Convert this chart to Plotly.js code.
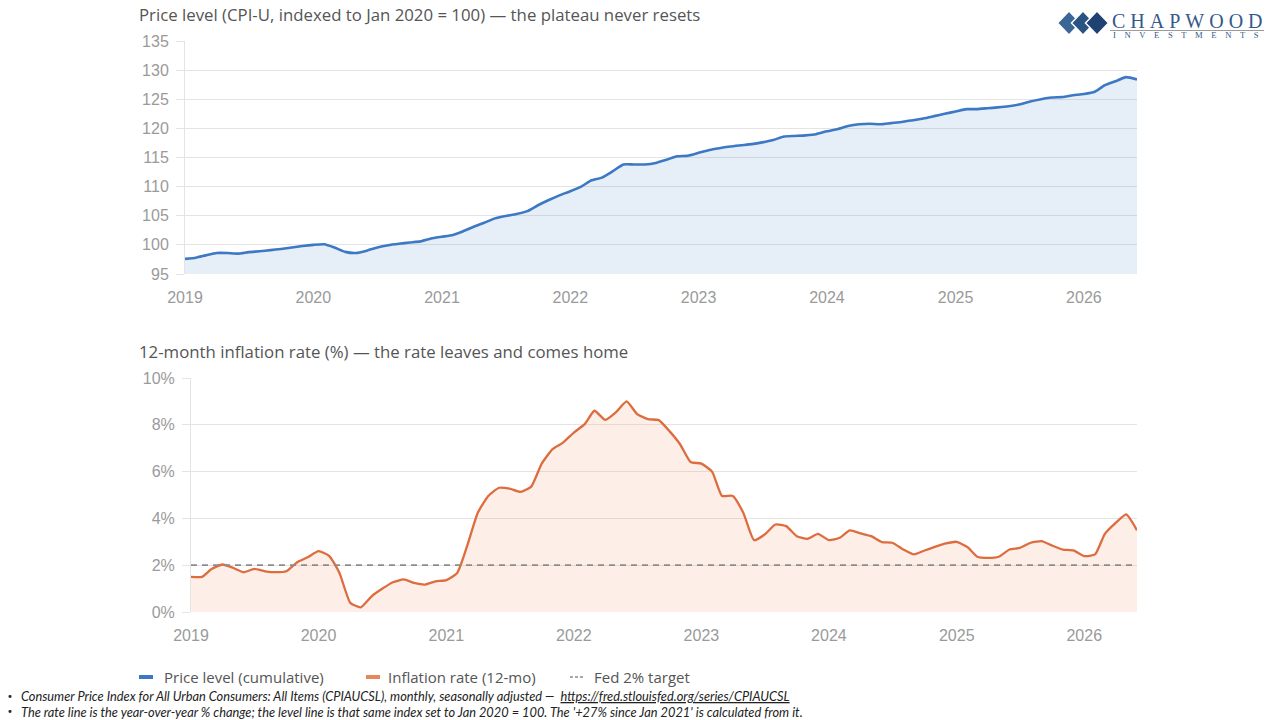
<!DOCTYPE html>
<html>
<head>
<meta charset="utf-8">
<script src="https://cdn.plot.ly/plotly-3.0.1.min.js"></script>
<style>
  html, body { margin: 0; padding: 0; background: #ffffff; }
  #chart { width: 1280px; height: 720px; }
</style>
</head>
<body>
<div id="chart"></div>
<script>
// ---- Data (monthly, Jan 2019 .. Jun 2026) ----
const startYear = 2019;
const startMonth = 1;

// CPI-U level, indexed to Jan 2020 = 100
const priceLevel = [
  97.6, 97.8, 98.2, 98.6, 98.6, 98.5, 98.75, 98.9, 99.1, 99.3, 99.55, 99.8,
  100.0, 100.1, 99.55, 98.8, 98.6, 99.0, 99.55, 99.95, 100.2, 100.4, 100.6, 101.1,
  101.4, 101.7, 102.3, 103.1, 103.8, 104.55, 104.95, 105.3, 105.8, 106.8, 107.7, 108.5,
  109.2, 110.0, 111.05, 111.55, 112.6, 113.8, 113.8, 113.8, 114.05, 114.6, 115.2, 115.3,
  115.8, 116.3, 116.6, 116.9, 117.1, 117.3, 117.6, 118.0, 118.6, 118.7, 118.8, 119.0,
  119.5, 119.9, 120.4, 120.7, 120.8, 120.7, 120.9, 121.1, 121.4, 121.7, 122.1, 122.5,
  122.9, 123.3, 123.3, 123.45, 123.6, 123.8, 124.1, 124.6, 125.0, 125.3, 125.4, 125.7,
  125.9, 126.3, 127.4, 128.1, 128.8, 128.4
];

// 12-month inflation rate, %
const inflationRate = [
  1.5, 1.5, 1.84, 2.03, 1.89, 1.7, 1.84, 1.74, 1.7, 1.74, 2.13, 2.34,
  2.6, 2.39, 1.67, 0.39, 0.2, 0.67, 0.99, 1.27, 1.39, 1.24, 1.17, 1.31,
  1.36, 1.67, 2.8, 4.24, 4.96, 5.31, 5.27, 5.13, 5.36, 6.34, 6.96, 7.24,
  7.67, 8.03, 8.6, 8.21, 8.53, 9.0, 8.46, 8.24, 8.2, 7.74, 7.17, 6.41,
  6.34, 5.99, 4.96, 4.96, 4.24, 3.07, 3.31, 3.74, 3.67, 3.24, 3.13, 3.34,
  3.07, 3.17, 3.49, 3.36, 3.24, 2.99, 2.96, 2.67, 2.46, 2.63, 2.79, 2.93,
  3.0, 2.77, 2.36, 2.31, 2.36, 2.67, 2.74, 2.96, 3.03, 2.84, 2.67, 2.63,
  2.39, 2.46, 3.34, 3.81, 4.17, 3.49
];

const fedTarget = 2;

const topTitle = "Price level (CPI-U, indexed to Jan 2020 = 100) — the plateau never resets";
const bottomTitle = "12-month inflation rate (%) — the rate leaves and comes home";
const legendLabels = ["Price level (cumulative)", "Inflation rate (12-mo)", "Fed 2% target"];
const yearTicks = ["2019", "2020", "2021", "2022", "2023", "2024", "2025", "2026"];
const footnote1 = "Consumer Price Index for All Urban Consumers: All Items (CPIAUCSL), monthly, seasonally adjusted —  ";
const footnoteLink = "https://fred.stlouisfed.org/series/CPIAUCSL";
const footnote2 = "The rate line is the year-over-year % change; the level line is that same index set to Jan 2020 = 100. The '+27% since Jan 2021' is calculated from it.";

// ---- Build month dates ----
const dates = priceLevel.map((_, i) => {
  const m = startMonth - 1 + i;
  const y = startYear + Math.floor(m / 12);
  const mm = (m % 12) + 1;
  return y + "-" + String(mm).padStart(2, "0") + "-01";
});
const tickVals = yearTicks.map(y => y + "-01-01");

const BLUE = "#3d78c4";
const ORANGE = "#dd6c3e";
const GRID = "#e4e4e4";
const TICKFONT = { family: "Liberation Sans, Arial, sans-serif", size: 16, color: "#9a9a9a" };

const traces = [
  {
    x: dates, y: priceLevel, xaxis: "x", yaxis: "y",
    type: "scatter", mode: "lines",
    line: { color: BLUE, width: 2.6, shape: "spline", smoothing: 0.5 },
    fill: "tozeroy", fillcolor: "rgba(61,120,196,0.13)",
    showlegend: false, hoverinfo: "x+y"
  },
  {
    x: dates, y: inflationRate, xaxis: "x2", yaxis: "y2",
    type: "scatter", mode: "lines",
    line: { color: ORANGE, width: 2.3, shape: "spline", smoothing: 0.5 },
    fill: "tozeroy", fillcolor: "rgba(240,140,95,0.15)",
    showlegend: false, hoverinfo: "x+y"
  },
  {
    x: [dates[0], dates[dates.length - 1]], y: [fedTarget, fedTarget],
    xaxis: "x2", yaxis: "y2",
    type: "scatter", mode: "lines",
    line: { color: "#8c8c8c", width: 1.8, dash: "6px,5px" },
    showlegend: false, hoverinfo: "y"
  }
];

const xRange = [dates[0], dates[dates.length - 1]];

const baseX = {
  type: "date", range: xRange, tickvals: tickVals, ticktext: yearTicks,
  showgrid: false, zeroline: false, showline: false,
  ticks: "", ticklabelstandoff: 12, tickfont: TICKFONT, fixedrange: true
};

const layout = {
  width: 1280, height: 720,
  margin: { l: 0, r: 0, t: 0, b: 0 },
  paper_bgcolor: "#ffffff", plot_bgcolor: "#ffffff",
  showlegend: false,
  xaxis: Object.assign({}, baseX, { domain: [185 / 1280, 1137 / 1280], anchor: "y" }),
  yaxis: {
    domain: [(720 - 274) / 720, (720 - 41) / 720], anchor: "x",
    range: [95, 135], dtick: 5, tick0: 95,
    showgrid: true, gridcolor: GRID, gridwidth: 1,
    zeroline: false, showline: true, linecolor: GRID, linewidth: 1,
    ticks: "outside", ticklen: 8, tickcolor: GRID, ticklabelstandoff: 4,
    tickfont: TICKFONT, fixedrange: true
  },
  xaxis2: Object.assign({}, baseX, { domain: [191 / 1280, 1137 / 1280], anchor: "y2" }),
  yaxis2: {
    domain: [(720 - 612) / 720, (720 - 378) / 720], anchor: "x2",
    range: [0, 10], dtick: 2, tick0: 0, ticksuffix: "%",
    showgrid: true, gridcolor: GRID, gridwidth: 1,
    zeroline: false, showline: true, linecolor: GRID, linewidth: 1,
    ticks: "outside", ticklen: 8, tickcolor: GRID, ticklabelstandoff: 4,
    tickfont: TICKFONT, fixedrange: true
  },
  shapes: [],
  annotations: []
};

const TITLEFONT = { family: "Open Sans, Noto Sans, sans-serif", size: 16.8, color: "#555555" };
const py = v => 1 - v / 720;   // pixel y -> paper
const px = v => v / 1280;      // pixel x -> paper

// Panel titles
layout.annotations.push({
  xref: "paper", yref: "paper", x: px(137), y: py(14), xanchor: "left", yanchor: "middle",
  text: topTitle, showarrow: false, font: TITLEFONT
});
layout.annotations.push({
  xref: "paper", yref: "paper", x: px(137), y: py(351), xanchor: "left", yanchor: "middle",
  text: bottomTitle, showarrow: false, font: TITLEFONT
});

// Legend (drawn manually)
const LEGFONT = { family: "Open Sans, Noto Sans, sans-serif", size: 15, color: "#555555" };
const legY = 677;
layout.shapes.push({ type: "line", xref: "paper", yref: "paper", x0: px(139), x1: px(153), y0: py(legY), y1: py(legY),
  line: { color: BLUE, width: 4 } });
layout.annotations.push({ xref: "paper", yref: "paper", x: px(162), y: py(legY), xanchor: "left", yanchor: "middle",
  text: legendLabels[0], showarrow: false, font: LEGFONT });
layout.shapes.push({ type: "line", xref: "paper", yref: "paper", x0: px(366), x1: px(380), y0: py(legY), y1: py(legY),
  line: { color: "#e8875c", width: 4 } });
layout.annotations.push({ xref: "paper", yref: "paper", x: px(386), y: py(legY), xanchor: "left", yanchor: "middle",
  text: legendLabels[1], showarrow: false, font: LEGFONT });
layout.shapes.push({ type: "line", xref: "paper", yref: "paper", x0: px(570), x1: px(585), y0: py(legY), y1: py(legY),
  line: { color: "#8c8c8c", width: 1.3, dash: "3px,2px" } });
layout.annotations.push({ xref: "paper", yref: "paper", x: px(592), y: py(legY), xanchor: "left", yanchor: "middle",
  text: legendLabels[2], showarrow: false, font: LEGFONT });

// Footnotes
const FOOTFONT = { family: "Lato, Open Sans, sans-serif", size: 12.8, color: "#222222" };
[[696, "<i>" + footnote1 + "<span style='text-decoration:underline'>" + footnoteLink + "</span></i>"],
 [711.5, "<i>" + footnote2 + "</i>"]].forEach(([yy, txt]) => {
  layout.annotations.push({ xref: "paper", yref: "paper", x: px(5), y: py(yy), xanchor: "left", yanchor: "middle",
    text: "•", showarrow: false, font: { family: "DejaVu Sans, sans-serif", size: 10, color: "#222" } });
  layout.annotations.push({ xref: "paper", yref: "paper", x: px(19), y: py(yy), xanchor: "left", yanchor: "middle",
    text: txt, showarrow: false, font: FOOTFONT });
});

// Logo: three diamonds + wordmark
const diamond = (cx, cy, hw, hh) =>
  `M ${px(cx - hw)} ${py(cy)} L ${px(cx)} ${py(cy - hh)} L ${px(cx + hw)} ${py(cy)} L ${px(cx)} ${py(cy + hh)} Z`;
[[1069, "#3a6796"], [1083, "#2a5283"], [1097, "#1f4272"]].forEach(([cx, col]) => {
  layout.shapes.push({ type: "path", xref: "paper", yref: "paper", path: diamond(cx, 23, 11.5, 12),
    fillcolor: col, line: { color: "#ffffff", width: 1.5 } });
});
layout.annotations.push({ xref: "paper", yref: "paper", x: px(1110), y: py(21), xanchor: "left", yanchor: "middle",
  text: "C\u00a0H\u00a0A\u00a0P\u00a0W\u00a0O\u00a0O\u00a0D", showarrow: false,
  font: { family: "Liberation Serif, Times New Roman, serif", size: 20, color: "#35598a" } });
layout.shapes.push({ type: "line", xref: "paper", yref: "paper", x0: px(1110), x1: px(1264), y0: py(30.5), y1: py(30.5),
  line: { color: "#9a9a9a", width: 1 } });
layout.annotations.push({ xref: "paper", yref: "paper", x: px(1111), y: py(35), xanchor: "left", yanchor: "middle",
  text: ["I","N","V","E","S","T","M","E","N","T","S"].join("\u00a0\u00a0\u00a0\u00a0"), showarrow: false,
  font: { family: "Liberation Serif, Times New Roman, serif", size: 8.6, color: "#35598a" } });

Plotly.newPlot("chart", traces, layout, { displayModeBar: false, staticPlot: true });
</script>
</body>
</html>
